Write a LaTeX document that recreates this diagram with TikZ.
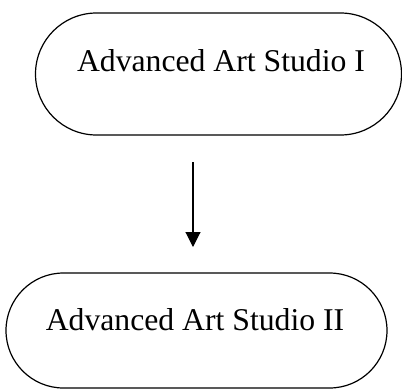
\documentclass[tikz,border=0pt]{standalone}
\usepackage{fontspec}
\setmainfont{Liberation Serif}
\usetikzlibrary{shapes.misc,arrows.meta}
\begin{document}
\begin{tikzpicture}[x=1pt,y=-1pt,
  pill/.style={draw, rounded rectangle, line width=1.2pt, inner sep=0pt},
  txt/.style={anchor=base, inner sep=0pt, font=\fontsize{31.7}{36}\selectfont},
  arr/.style={line width=1.1pt, -{Triangle[width=15pt,length=15pt]}}]
\useasboundingbox (0,0) rectangle (402,389);
\node[pill, minimum width=366pt, minimum height=122pt] (top) at (218.5,74) {};
\node[txt] (toptext) at (221,71) {Advanced Art Studio I};
\node[pill, minimum width=381pt, minimum height=115pt] (bot) at (196.5,330.5) {};
\node[txt] (bottext) at (195,330) {Advanced Art Studio II};
\coordinate (a1) at (193,162);
\coordinate (a2) at (193,247);
\draw[arr] (a1) -- (a2);
\end{tikzpicture}
\end{document}
